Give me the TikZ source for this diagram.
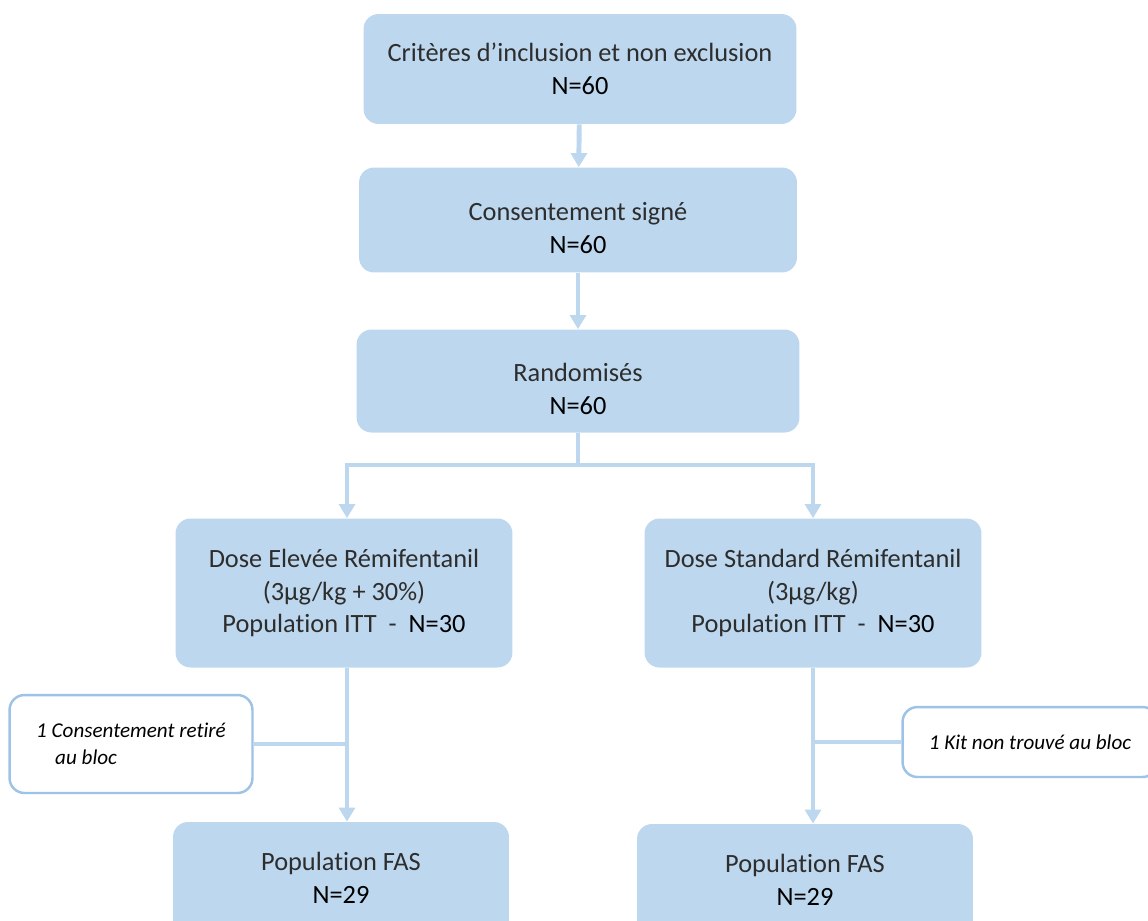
\documentclass[tikz,border=0pt]{standalone}
\usepackage{fontspec}
\setmainfont{Carlito}[Ligatures=CommonOff]
\usetikzlibrary{positioning,arrows.meta,calc}
\definecolor{fcFill}{RGB}{189,215,238}
\definecolor{fcEdge}{RGB}{157,195,230}
\definecolor{fcText}{RGB}{45,45,45}
\newcommand{\topgap}{\rule{0pt}{19.5pt}}

\begin{document}
\begin{tikzpicture}[x=0.02cm, y=-0.02cm,
    stage/.style={fill=fcFill, draw=none, rounded corners=0.3cm, align=center,
      text=fcText, font=\fontsize{15}{18.6}\selectfont, inner sep=0pt},
    note/.style={fill=white, draw=fcEdge, line width=1.4pt, rounded corners=0.3cm,
      align=left, text=black, font=\fontsize{12}{15.3}\selectfont\itshape, inner sep=0pt},
    conn/.style={draw=fcFill, line width=2.8pt, -{Triangle[width=9pt,length=8pt]}},
    link/.style={draw=fcFill, line width=2.8pt}]
  % Frame
  \useasboundingbox (0,0) rectangle (1148,920);
  \clip (0,0) rectangle (1148,920);

  % Main column
  \node[stage, minimum width=8.66cm, minimum height=2.2cm] (crit) at (580,69)
    {Critères d’inclusion et non exclusion\\ \textcolor{black}{N=60}};
  \node[stage, minimum width=8.76cm, minimum height=2.1cm] (cons) at (578,220)
    {\topgap Consentement signé\\ \textcolor{black}{N=60}};
  \node[stage, minimum width=8.86cm, minimum height=2.06cm] (rand) at (578,381)
    {\topgap Randomisés\\ \textcolor{black}{N=60}};

  % Arms
  \node[stage, minimum width=6.74cm, minimum height=2.98cm] (haute) at (344,593)
    {Dose Elevée Rémifentanil\\ (3µg/kg + 30\%)\\ Population ITT~ - ~\textcolor{black}{N=30}};
  \node[stage, minimum width=6.74cm, minimum height=2.98cm] (std) at (813,593)
    {Dose Standard Rémifentanil\\ (3µg/kg)\\ Population ITT~ - ~\textcolor{black}{N=30}};

  % FAS
  \node[stage, minimum width=6.72cm, minimum height=2.24cm] (fasA) at (341,878)
    {Population FAS\\ \textcolor{black}{N=29}};
  \node[stage, minimum width=6.72cm, minimum height=2.24cm] (fasB) at (805,880)
    {Population FAS\\ \textcolor{black}{N=29}};

  % Exclusions
  \node[note, minimum width=4.86cm, minimum height=1.96cm] (retire) at (131,744)
    {1 Consentement retiré\\ \hspace*{0.38cm}au bloc};
  \node[note, minimum width=5.1cm, minimum height=1.4cm] (kit) at (1030,742)
    {1 Kit non trouvé au bloc};

  % Connectors
  \coordinate (split) at (578,465);
  \draw[conn] (crit) -- (cons);
  \draw[conn] (cons) -- (rand);
  \draw[link] (rand.south) -- (split);
  \draw[conn] (split) -| ($(haute.north)+(3,0)$);
  \draw[conn] (split) -| (std.north);
  \draw[conn] ($(haute.south)+(3,0)$) -- ($(fasA.north)+(6,0)$);
  \draw[conn] (std.south) -- ($(fasB.north)+(8,0)$);
  \draw[link] (retire.east) -- ($(retire.east -| haute.south)+(3,0)$);
  \draw[link] (kit.west) -- (kit.west -| std.south);
\end{tikzpicture}
\end{document}
